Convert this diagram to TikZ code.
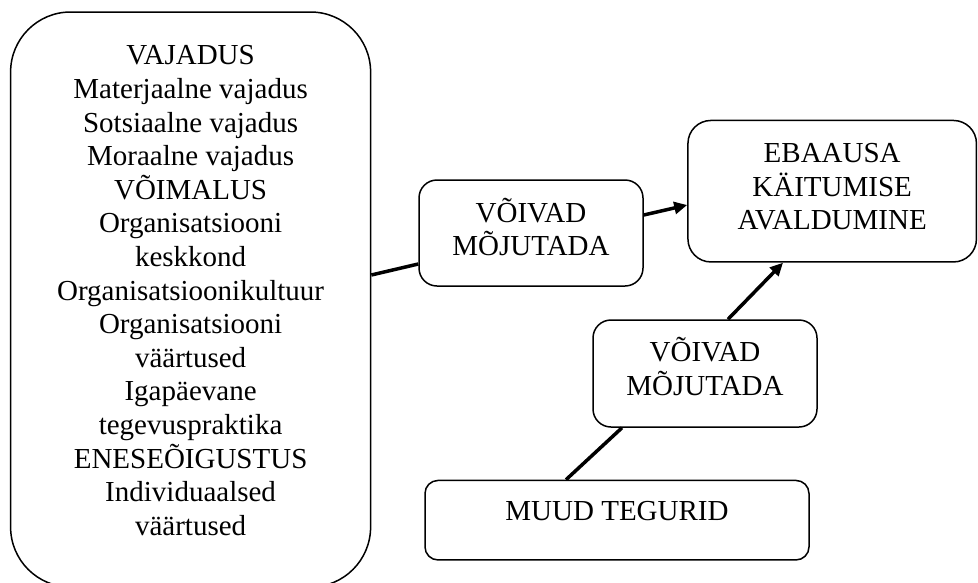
\documentclass[tikz,border=0pt]{standalone}
\usepackage{fontspec}
\setmainfont{Liberation Serif}
\usetikzlibrary{arrows.meta}
\begin{document}
\begin{tikzpicture}[x=1pt,y=-1pt,
  boxstyle/.style={draw, line width=1.5pt, rectangle, inner sep=0pt},
  txt/.style={inner sep=0pt, align=center, font=\fontsize{29}{33.6}\selectfont},
  conn/.style={line width=3.5pt},
  arr/.style={conn, -{Triangle[length=13pt,width=12pt]}}]
\path[use as bounding box, clip] (0,0) rectangle (978,582);
% boxes
\node[boxstyle, rounded corners=60pt, minimum width=360pt, minimum height=575pt] (big) at (190.6,299.5) {};
\node[boxstyle, rounded corners=18pt, minimum width=224pt, minimum height=106pt] (v1) at (531,233) {};
\node[boxstyle, rounded corners=23pt, minimum width=288.5pt, minimum height=141.5pt] (eb) at (832.2,191.2) {};
\node[boxstyle, rounded corners=18pt, minimum width=224pt, minimum height=107pt] (v2) at (705,373.5) {};
\node[boxstyle, rounded corners=13pt, minimum width=384pt, minimum height=79.5pt] (muud) at (617,520.2) {};
% texts
\node[txt] (bigtext) at (190.6,290.6) {VAJADUS\\Materjaalne vajadus\\Sotsiaalne vajadus\\Moraalne vajadus\\VÕIMALUS\\Organisatsiooni\\keskkond\\Organisatsioonikultuur\\Organisatsiooni\\väärtused\\Igapäevane\\tegevuspraktika\\ENESEÕIGUSTUS\\Individuaalsed\\väärtused};
\node[txt] (v1text) at (531,226.8) {VÕIVAD\\MÕJUTADA};
\node[txt] (ebtext) at (832.2,187) {EBAAUSA\\KÄITUMISE\\AVALDUMINE};
\node[txt] (v2text) at (705,366.5) {VÕIVAD\\MÕJUTADA};
\node[txt] (muudtext) at (617,511.4) {MUUD TEGURID};
% connectors
\draw[conn] ([yshift=24.5pt]big.east) -- ([yshift=-31pt]v1.west);
\draw[arr] ([yshift=18pt]v1.east) -- ([yshift=-13.8pt]eb.west);
\draw[conn] ([xshift=-51pt]muud.north) -- ([xshift=-83pt]v2.south);
\draw[arr] ([xshift=23pt]v2.north) -- ([xshift=-49.2pt]eb.south);
\end{tikzpicture}
\end{document}
